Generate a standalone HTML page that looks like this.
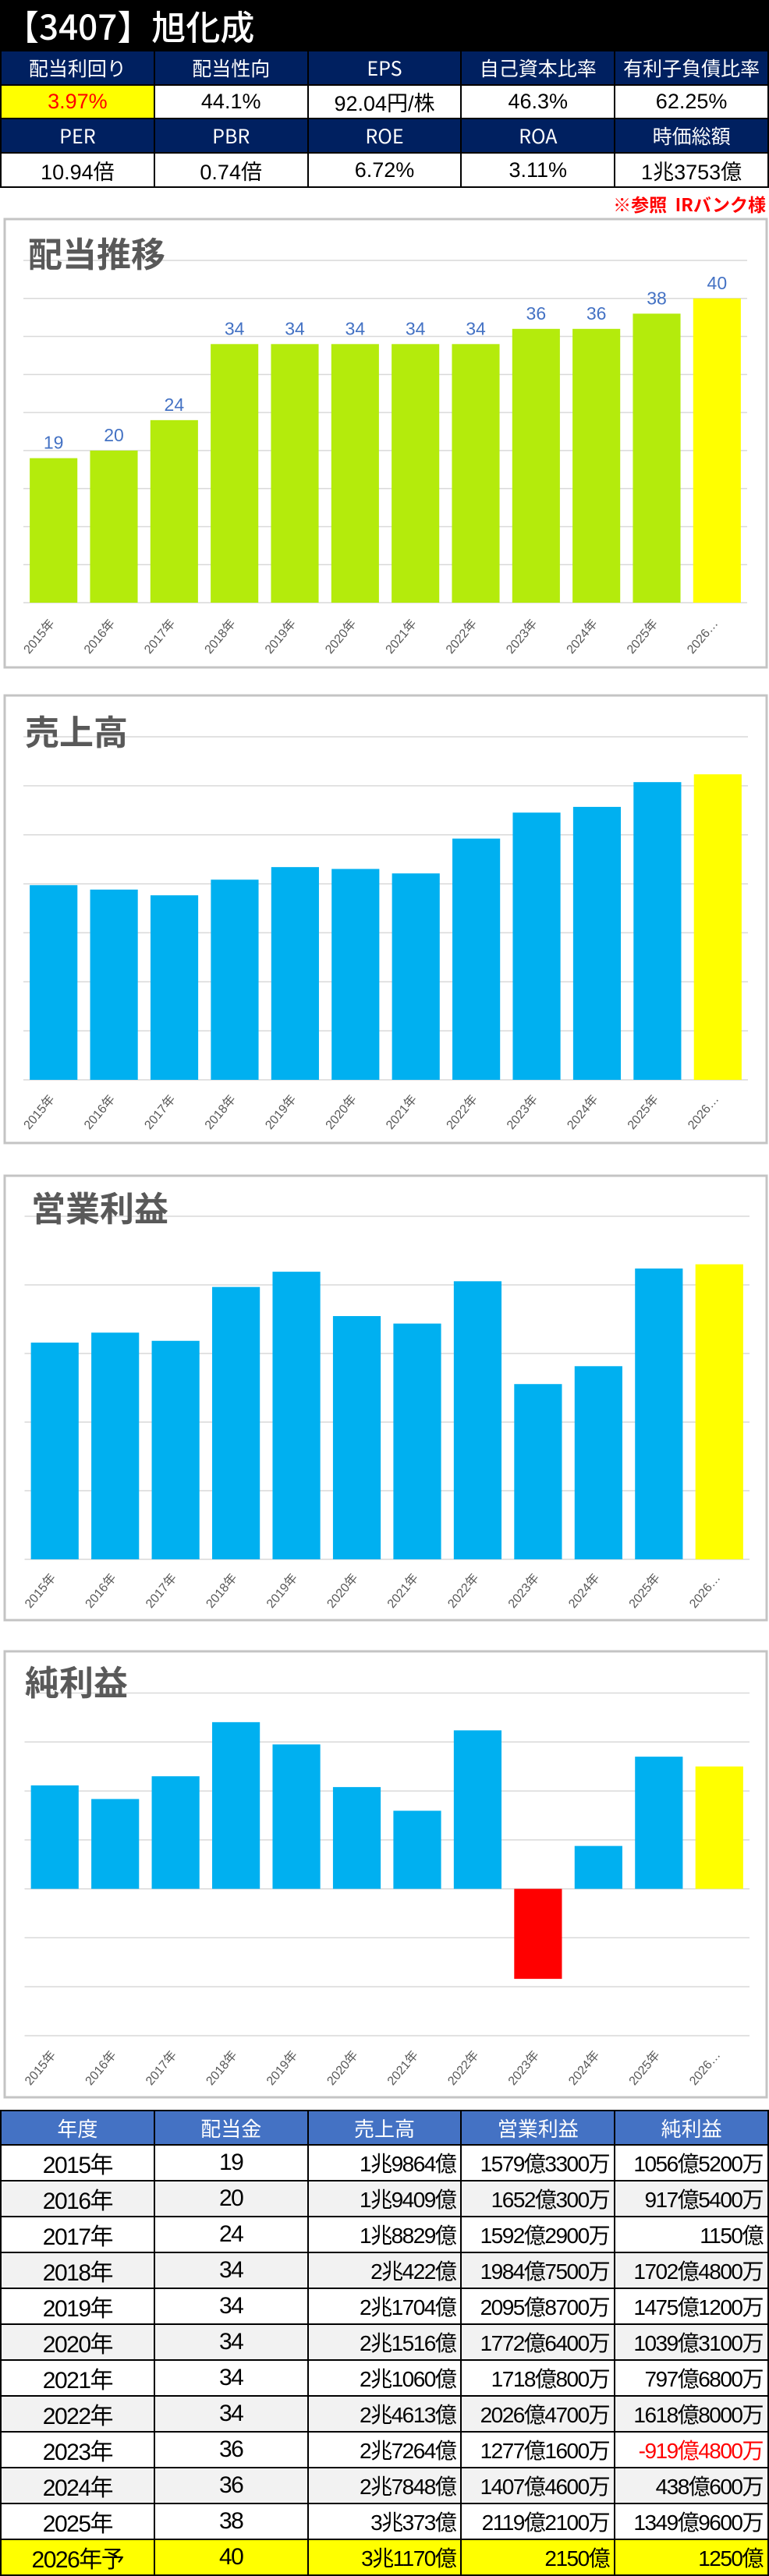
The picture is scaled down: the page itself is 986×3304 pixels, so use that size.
<!DOCTYPE html>
<html><head><meta charset="utf-8">
<style>
*{margin:0;padding:0;box-sizing:border-box}
body{width:986px;height:3298px;position:relative;background:#fff;font-family:"Liberation Sans","Noto Sans CJK JP",sans-serif;overflow:hidden}
#title{position:absolute;left:0;top:0;width:986px;height:64px;background:#000;color:#fff;font-size:44px;line-height:64px;padding-left:6px;font-family:"Noto Sans CJK JP",sans-serif;font-weight:500}
#kpi{position:absolute;left:0;top:64px;width:986px;height:177px;background:#000;display:grid;grid-template-columns:repeat(5,1fr);grid-template-rows:42px 41px 42px 42px;gap:2px;padding:2px}
#kpi div{display:flex;align-items:center;justify-content:center;font-size:27px;white-space:nowrap}
#kpi .h{background:#002060;color:#fff;font-family:"Noto Sans CJK JP",sans-serif;font-size:25px}
#kpi .v{background:#fff;color:#000}
#kpi .y{background:#ff0;color:#f00}
#note{position:absolute;right:4px;top:246px;color:#f00;font-size:23px;font-weight:bold;font-family:"Noto Sans CJK JP",sans-serif;line-height:30px}
#charts{position:absolute;left:0;top:0}
#tbl{position:absolute;left:0;top:2706px;width:986px;border-collapse:collapse;table-layout:fixed}
#tbl td,#tbl th{border:2px solid #000;height:45.4px;font-size:28px;padding:0 6px;white-space:nowrap;letter-spacing:-1.5px;font-weight:normal}
#tbl th{background:#4472c4;color:#fff;height:44px;font-size:26px;font-family:"Noto Sans CJK JP",sans-serif;letter-spacing:0}
#tbl td.c{text-align:center;font-size:30px}
#tbl td.r{text-align:right}
#tbl tr.g td{background:#f2f2f2}
#tbl tr.f td{background:#ff0}
</style></head><body>
<div id="title">【3407】旭化成</div>
<div id="kpi">
<div class="h">配当利回り</div>
<div class="h">配当性向</div>
<div class="h">EPS</div>
<div class="h">自己資本比率</div>
<div class="h">有利子負債比率</div>
<div class="y">3.97%</div>
<div class="v">44.1%</div>
<div class="v">92.04円/株</div>
<div class="v">46.3%</div>
<div class="v">62.25%</div>
<div class="h">PER</div>
<div class="h">PBR</div>
<div class="h">ROE</div>
<div class="h">ROA</div>
<div class="h">時価総額</div>
<div class="v">10.94倍</div>
<div class="v">0.74倍</div>
<div class="v">6.72%</div>
<div class="v">3.11%</div>
<div class="v">1兆3753億</div>
</div>
<div id="note">※参照&nbsp; IRバンク様</div>

<svg id="charts" width="986" height="3298" xmlns="http://www.w3.org/2000/svg"></svg>

<table id="tbl">
<tr><th>年度</th><th>配当金</th><th>売上高</th><th>営業利益</th><th>純利益</th></tr>
<tr><td class="c">2015年</td><td class="c">19</td><td class="r">1兆9864億</td><td class="r">1579億3300万</td><td class="r">1056億5200万</td></tr>
<tr class="g"><td class="c">2016年</td><td class="c">20</td><td class="r">1兆9409億</td><td class="r">1652億300万</td><td class="r">917億5400万</td></tr>
<tr><td class="c">2017年</td><td class="c">24</td><td class="r">1兆8829億</td><td class="r">1592億2900万</td><td class="r">1150億</td></tr>
<tr class="g"><td class="c">2018年</td><td class="c">34</td><td class="r">2兆422億</td><td class="r">1984億7500万</td><td class="r">1702億4800万</td></tr>
<tr><td class="c">2019年</td><td class="c">34</td><td class="r">2兆1704億</td><td class="r">2095億8700万</td><td class="r">1475億1200万</td></tr>
<tr class="g"><td class="c">2020年</td><td class="c">34</td><td class="r">2兆1516億</td><td class="r">1772億6400万</td><td class="r">1039億3100万</td></tr>
<tr><td class="c">2021年</td><td class="c">34</td><td class="r">2兆1060億</td><td class="r">1718億800万</td><td class="r">797億6800万</td></tr>
<tr class="g"><td class="c">2022年</td><td class="c">34</td><td class="r">2兆4613億</td><td class="r">2026億4700万</td><td class="r">1618億8000万</td></tr>
<tr><td class="c">2023年</td><td class="c">36</td><td class="r">2兆7264億</td><td class="r">1277億1600万</td><td class="r" style="color:#f00">-919億4800万</td></tr>
<tr class="g"><td class="c">2024年</td><td class="c">36</td><td class="r">2兆7848億</td><td class="r">1407億4600万</td><td class="r">438億600万</td></tr>
<tr><td class="c">2025年</td><td class="c">38</td><td class="r">3兆373億</td><td class="r">2119億2100万</td><td class="r">1349億9600万</td></tr>
<tr class="f"><td class="c">2026年予</td><td class="c">40</td><td class="r">3兆1170億</td><td class="r">2150億</td><td class="r">1250億</td></tr>
</table>

<script>
const categories = ["2015年","2016年","2017年","2018年","2019年","2020年","2021年","2022年","2023年","2024年","2025年","2026…"];
const dividends = [19,20,24,34,34,34,34,34,36,36,38,40];
const sales = [19864,19409,18829,20422,21704,21516,21060,24613,27264,27848,30373,31170];
const operatingProfit = [1579.33,1652.03,1592.29,1984.75,2095.87,1772.64,1718.08,2026.47,1277.16,1407.46,2119.21,2150];
const netProfit = [1056.52,917.54,1150,1702.48,1475.12,1039.31,797.68,1618.80,-919.48,438.06,1349.96,1250];

const NS = "http://www.w3.org/2000/svg";
const svg = document.getElementById('charts');
function mk(tag, attrs, parent){
  const e = document.createElementNS(NS, tag);
  for (const k in attrs) e.setAttribute(k, attrs[k]);
  (parent||svg).appendChild(e);
  return e;
}
function chart(cfg){
  const g = mk('g', {});
  
  
  const box = mk('rect', {x:6, y:cfg.boxTop, width:977, height:cfg.boxBottom-cfg.boxTop, fill:'#fff', stroke:'#c4c4c4', 'stroke-width':3}, g);
  
  
  const yScale = v => cfg.yBase - (v - cfg.min) / (cfg.max - cfg.min) * (cfg.yBase - cfg.yTop);
  const band = (cfg.x1 - cfg.x0) / categories.length;
  const bw = band * 0.79;
  const xScale = i => cfg.x0 + band * i + band / 2;
  for (let t = cfg.min; t <= cfg.max + 1e-9; t += cfg.step) {
    const gl = mk('line', {x1:cfg.x0, x2:cfg.x1, y1:yScale(t), y2:yScale(t), stroke:'#d9d9d9', 'stroke-width':1.5}, g);
    
    
  }
  const title = mk('text', {x:cfg.tx, y:cfg.ty, 'font-size':44, fill:'#595959', 'font-weight':'bold', 'dominant-baseline':'central', 'font-family':'"Noto Sans CJK JP",sans-serif'}, g);
  title.textContent = cfg.title;
  
  
  const zero = yScale(Math.max(cfg.min, 0));
  cfg.values.forEach((v, i) => {
    const y = yScale(v);
    let color = i === categories.length - 1 ? '#ffff00' : (v < 0 ? '#ff0000' : cfg.color);
    const r = mk('rect', {x:xScale(i) - bw/2, y:Math.min(y, zero), width:bw, height:Math.abs(zero - y), fill:color}, g);
    
    
    if (cfg.labels) {
      const t = mk('text', {x:xScale(i), y:y - 20, 'font-size':23, fill:'#4472c4', 'text-anchor':'middle', 'dominant-baseline':'central'}, g);
      t.textContent = v;
      
      
    }
    const lx = xScale(i) + 2, ly = cfg.yLabel;
    const xl = mk('text', {x:lx, y:ly, 'font-size':16, fill:'#595959', 'text-anchor':'end', transform:'rotate(-50 ' + lx + ' ' + ly + ')', 'font-family':'"Liberation Sans","Noto Sans CJK JP",sans-serif'}, g);
    xl.textContent = categories[i];
    
    
  });
}
chart({name:'dividend-chart', title:'配当推移', values:dividends, color:'#b4eb0c', labels:true,
  boxTop:281, boxBottom:856, x0:30, x1:958, yTop:334, yBase:773, min:0, max:45, step:5, tx:36, ty:323, yLabel:800});
chart({name:'sales-chart', title:'売上高', values:sales, color:'#00b0f0',
  boxTop:892, boxBottom:1466, x0:30, x1:959, yTop:945, yBase:1385, min:0, max:35000, step:5000, tx:32, ty:936, yLabel:1410});
chart({name:'operating-profit-chart', title:'営業利益', values:operatingProfit, color:'#00b0f0',
  boxTop:1508, boxBottom:2078, x0:31.5, x1:961, yTop:1560, yBase:2000, min:0, max:2500, step:500, tx:40, ty:1547, yLabel:2024});
chart({name:'net-profit-chart', title:'純利益', values:netProfit, color:'#00b0f0',
  boxTop:2118, boxBottom:2690, x0:31.5, x1:961, yTop:2171.5, yBase:2611, min:-1500, max:2000, step:500, tx:32, ty:2155, yLabel:2636});
</script>
</body></html>
